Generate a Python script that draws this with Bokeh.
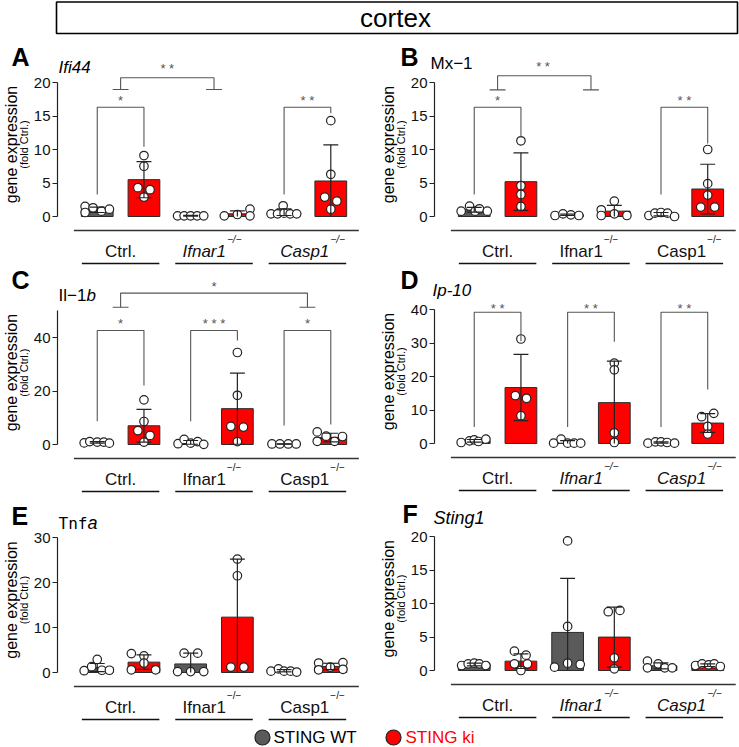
import math
from bokeh.plotting import figure
from bokeh.layouts import column, row
from bokeh.models import Range1d, FixedTicker
from bokeh.core.properties import value
from bokeh.embed import file_html
from bokeh.resources import INLINE

FONT = "Liberation Sans"
RED = "#ff0000"
WT_GRAY = "#5a5a5a"
EDGE = "#2b2b2b"
BRK = "#555555"

# ---------------- shared categories ----------------
positions = [1, 2, 3, 4, 5, 6]
group_centers = [1.5, 3.5, 5.5]
group_names = ["Ctrl.", "Ifnar1", "Casp1"]
group_sup = ["", "\u2212/\u2212", "\u2212/\u2212"]
sup_shift_px = [0, 12, 22]
bar_colors = [WT_GRAY, RED, WT_GRAY, RED, WT_GRAY, RED]
legend_labels = ["STING WT", "STING ki"]
legend_fill = [WT_GRAY, RED]
legend_text_colors = ["#000000", RED]
title_text = "cortex"

# ---------------- panel A : Ifi44 ----------------
A_mean = [1.0, 5.5, 0.12, 0.4, 0.65, 5.3]
A_sd = [0.4, 2.7, 0.05, 0.45, 0.5, 5.4]
A_points = [[1.5, 0.6, 1.3, 0.8, 1.1], [9.1, 7.5, 4.3, 4.0, 2.9], [0.1, 0.1, 0.1, 0.1, 0.1],
            [0.1, 0.3, 1.1, 0.1], [0.4, 0.4, 1.6, 0.5, 0.4, 0.4], [14.3, 6.3, 2.9, 2.3, 1.1]]
A_jitter = [[-0.26, -0.26, -0.09, 0.09, 0.26], [0, 0, -0.13, 0.13, 0], [-0.28, -0.14, 0, 0.14, 0.28],
            [-0.28, 0, 0.27, 0.27], [-0.28, -0.14, -0.02, 0.0, 0.13, 0.27], [0, 0, -0.13, 0.13, 0]]
A_ticks = [0, 5, 10, 15, 20]
A_brackets = [(1.5, 3.5, 20.7, 18.95, 18.95, "* *", 22.5, True),
              (1, 2, 16.3, 3.3, 10.4, "*", 17.8, False),
              (5, 6, 16.3, 3.3, 15.4, "* *", 17.8, False)]

# ---------------- panel B : Mx-1 ----------------
B_mean = [1.0, 5.2, 0.25, 0.8, 0.35, 4.1]
B_sd = [0.35, 4.3, 0.1, 0.85, 0.25, 3.7]
B_points = [[0.8, 1.55, 0.8, 1.15, 0.8], [11.3, 4.6, 3.3, 1.5], [0.15, 0.4, 0.25, 0.15],
            [1.0, 0.15, 2.3, 0.4, 0.15], [0.15, 0.5, 0.6, 0.5, 0.0], [10.0, 4.9, 3.2, 1.4, 1.4]]
B_jitter = [[-0.28, -0.1, 0.02, 0.11, 0.28], [0, 0, 0, 0], [-0.27, -0.1, 0.07, 0.24],
            [-0.28, -0.28, 0, 0, 0.27], [-0.26, -0.13, 0, 0.14, 0.29], [0, 0, 0, -0.15, 0.15]]
B_ticks = [0, 5, 10, 15, 20]
B_brackets = [(1.5, 3.5, 21.0, 18.9, 18.9, "* *", 22.9, True),
              (1, 2, 16.3, 3.3, 11.8, "*", 17.7, False),
              (5, 6, 16.3, 3.3, 10.9, "* *", 17.7, False)]

# ---------------- panel C : Il-1b ----------------
C_mean = [0.8, 7.0, 0.8, 13.4, 0.2, 2.6]
C_sd = [0.25, 6.1, 0.7, 13.3, 0.05, 1.6]
C_points = [[0.6, 1.1, 0.9, 0.9, 0.5], [16.7, 8.6, 5.2, 3.4, 0.9], [0.3, 1.9, 0.5, 1.1, 0.05],
            [34.4, 18.4, 6.8, 6.5, 1.1], [0.2, 0.2, 0.2, 0.2], [4.7, 1.2, 3.1, 1.2, 3.0]]
C_jitter = [[-0.28, -0.16, 0, 0.14, 0.26], [0, 0, -0.13, 0.13, 0], [-0.27, -0.14, 0, 0.15, 0.28],
            [0, 0, -0.14, 0.13, 0], [-0.26, -0.09, 0.09, 0.26], [-0.29, -0.29, -0.1, 0.08, 0.25]]
C_ticks = [0, 20, 40]
C_brackets = [(1.5, 5.5, 56.6, 51.3, 51.3, "*", 60.2, True),
              (1, 2, 42.6, 8.7, 22.1, "*", 46.4, False),
              (3, 4, 42.6, 8.7, 38.9, "* * *", 46.4, False),
              (5, 6, 42.6, 7.1, 7.5, "*", 46.4, False)]

# ---------------- panel D : Ip-10 ----------------
D_mean = [0.8, 16.7, 0.35, 12.2, 0.3, 6.1]
D_sd = [0.4, 9.9, 0.5, 12.4, 0.2, 2.8]
D_points = [[0.3, 0.8, 1.1, 0.6, 1.3], [31.2, 14.3, 13.5, 8.3], [0.1, 1.3, 0.1, 0.1, 0.1],
            [24.0, 22.0, 3.2, 0.3], [0.1, 0.5, 0.5, 0.3, 0.1], [8.0, 9.0, 5.1, 2.8]]
D_jitter = [[-0.28, -0.1, 0.0, 0.09, 0.25], [0, -0.12, 0.12, 0], [-0.3, -0.14, 0, 0.14, 0.28],
            [0, 0, 0, 0], [-0.28, -0.12, 0, 0.13, 0.29], [-0.13, 0.13, 0, 0]]
D_ticks = [0, 10, 20, 30, 40]
D_brackets = [(1, 2, 39.2, 4.9, 30.5, "* *", 41.2, False),
              (3, 4, 39.2, 4.9, 30.4, "* *", 41.2, False),
              (5, 6, 39.2, 4.9, 16.1, "* *", 41.2, False)]

# ---------------- panel E : Tnfa ----------------
E_mean = [1.1, 2.3, 1.9, 12.3, 0.4, 1.35]
E_sd = [0.9, 1.6, 2.4, 12.9, 0.25, 0.7]
E_points = [[0.4, 1.3, 2.9, 0.5, 0.5], [4.2, 3.7, 2.1, 0.6, 0.6], [4.3, 4.3, 0.2, 0.2, 0.2],
            [25.2, 21.5, 1.2, 1.2], [0.3, 0.8, 0.3, 0.3, 0.1], [2.1, 0.6, 1.2, 2.2, 0.7]]
E_jitter = [[-0.28, -0.12, 0, 0.1, 0.26], [-0.27, 0, 0, -0.27, 0.25], [-0.14, 0.15, -0.28, 0, 0.28],
            [0, 0, -0.14, 0.14], [-0.28, -0.12, 0, 0.14, 0.27], [-0.26, -0.26, -0.01, 0.26, 0.26]]
E_ticks = [0, 10, 20, 30]
E_brackets = []

# ---------------- panel F : Sting1 ----------------
F_mean = [0.9, 1.4, 5.7, 5.0, 0.7, 0.8]
F_sd = [0.2, 1.1, 8.1, 4.5, 0.45, 0.2]
F_points = [[0.75, 1.0, 1.1, 1.0, 0.75], [2.9, 2.3, 1.0, 1.0, 0.0], [19.4, 6.6, 0.5, 1.1, 0.9],
            [8.8, 9.0, 1.9, 0.25], [1.4, 0.4, 1.0, 0.4, 0.4], [0.75, 1.0, 0.85, 1.0, 0.6]]
F_jitter = [[-0.27, -0.13, 0, 0.11, 0.25], [-0.14, 0.11, -0.14, 0.14, 0], [0, 0, -0.28, 0, 0.27],
            [-0.13, 0.12, 0, 0], [-0.29, -0.29, -0.06, 0.08, 0.24], [-0.26, -0.12, 0.02, 0.14, 0.27]]
F_ticks = [0, 5, 10, 15, 20]
F_brackets = []

STRIP_W = 30   # strip holding the rotated y titles
AXIS_W = 25    # border holding the y tick labels
X0_PX = 95     # px of first bar from panel left
UNIT_PX = 47   # px per category step


def base_fig(w, h, xr, yr, border_left=0, axis=False):
    f = figure(width=w, height=h, x_range=xr, y_range=yr, output_backend="svg",
               toolbar_location=None, x_axis_location=None,
               y_axis_location="left" if axis else None,
               min_border_left=border_left, min_border_right=0, min_border_top=0,
               min_border_bottom=0)
    f.outline_line_color = None
    f.grid.visible = False
    return f


def make_panel(letter, title_parts, mean, sd, pts, jit, ticks, ymax, brackets, italic_groups,
               w, h, zero, ppu, split, letter_xy, title_xy):
    def px2x(px):
        return 1 + (px - X0_PX) / UNIT_PX

    def px2y(py):
        return (zero - py) / ppu

    top = split if split else 0
    y_top = px2y(top)
    plot = base_fig(w - STRIP_W, h - top, Range1d(px2x(STRIP_W + AXIS_W), px2x(w)),
                    Range1d(px2y(h), y_top), border_left=AXIS_W, axis=True)
    strip = base_fig(STRIP_W, h - top, Range1d(0, STRIP_W), Range1d(px2y(h), y_top))
    band = None
    if split:
        band = base_fig(w, split, Range1d(px2x(0), px2x(w)), Range1d(y_top, px2y(0)))

    ax = plot.yaxis[0]
    ax.bounds = (0, ymax)
    ax.ticker = FixedTicker(ticks=ticks)
    ax.major_tick_out = 5
    ax.major_tick_in = 0
    ax.minor_tick_line_color = None
    ax.axis_line_color = "#222222"
    ax.major_tick_line_color = "#222222"
    ax.axis_line_width = 1.2
    ax.major_tick_line_width = 1.2
    ax.major_label_text_font = FONT
    ax.major_label_text_font_size = "15px"
    ax.major_label_text_color = "#111111"
    ax.major_label_standoff = 2

    # bars
    plot.vbar(x=positions, top=mean, bottom=0, width=0.68, fill_color=bar_colors,
              line_color=EDGE, line_width=1)

    # points
    xs, ys = [], []
    for pos, vals, jj in zip(positions, pts, jit):
        for v, j in zip(vals, jj):
            xs.append(pos + j)
            ys.append(v)
    plot.scatter(x=xs, y=ys, size=8.5, fill_color="white", line_color="#222222", line_width=1.2)

    # error bars (mean +/- SD)
    ex0, ey0, ex1, ey1 = [], [], [], []
    for pos, m, s in zip(positions, mean, sd):
        lo = max(0.0, m - s)
        hi = m + s
        ex0.append(pos); ey0.append(lo); ex1.append(pos); ey1.append(hi)
        ex0.append(pos - 0.16); ey0.append(hi); ex1.append(pos + 0.16); ey1.append(hi)
        if lo > 0:
            ex0.append(pos - 0.16); ey0.append(lo); ex1.append(pos + 0.16); ey1.append(lo)
    plot.segment(x0=ex0, y0=ey0, x1=ex1, y1=ey1, line_color="#222222", line_width=1.2)

    # significance brackets
    bx, by = [], []
    stars = {"band": ([], [], []), "plot": ([], [], [])}
    for (x1, x2, yt, e1, e2, lab, ly, caps) in brackets:
        bx.append([x1, x1, x2, x2]); by.append([e1, yt, yt, e2])
        if caps:
            bx.append([x1 - 0.17, x1 + 0.17]); by.append([e1, e1])
            bx.append([x2 - 0.17, x2 + 0.17]); by.append([e2, e2])
        key = "band" if (band is not None and ly > y_top) else "plot"
        stars[key][0].append((x1 + x2) / 2); stars[key][1].append(ly); stars[key][2].append(lab)
    if bx:
        plot.multi_line(xs=bx, ys=by, line_color=BRK, line_width=1.1)
    for key, fig in (("band", band), ("plot", plot)):
        sx, sy, st = stars[key]
        if sx:
            fig.text(x=sx, y=sy, text=st, text_align="center", text_baseline="middle",
                     y_offset=3, text_font=value(FONT), text_font_size="13px", text_color=BRK)

    # baseline + group labels + underlines
    plot.segment(x0=[0.5], y0=[px2y(zero + 14)], x1=[6.6], y1=[px2y(zero + 14)],
                 line_color="#333333", line_width=1.3)
    style = "italic" if italic_groups else "normal"
    main_x, main_t, sup_x, sup_t = [], [], [], []
    for c, name, sup, shift in zip(group_centers, group_names, group_sup, sup_shift_px):
        if sup:
            main_x.append(c + shift / UNIT_PX); main_t.append(name)
            sup_x.append(c + shift / UNIT_PX); sup_t.append(sup)
    plot.text(x=[group_centers[0]], y=[px2y(zero + 35)], text=[group_names[0]],
              text_align="center", text_baseline="middle",
              text_font=value(FONT), text_font_size="17px", text_color="#111111")
    plot.text(x=main_x, y=[px2y(zero + 35)] * len(main_x), text=main_t,
              text_align="right", text_baseline="middle", text_font_style=style,
              text_font=value(FONT), text_font_size="17px", text_color="#111111")
    plot.text(x=sup_x, y=[px2y(zero + 23)] * len(sup_x), text=sup_t, x_offset=1,
              text_align="left", text_baseline="middle", text_font_style=style,
              text_font=value(FONT), text_font_size="10px", text_color="#111111")
    plot.segment(x0=[c - 0.83 for c in group_centers], y0=[px2y(zero + 47)] * 3,
                 x1=[c + 0.83 for c in group_centers], y1=[px2y(zero + 47)] * 3,
                 line_color="#111111", line_width=1.5)

    # panel letter
    if band is not None:
        band.text(x=[px2x(letter_xy[0])], y=[px2y(letter_xy[1])], text=[letter],
                  text_font=value(FONT), text_font_style="bold", text_font_size="25px",
                  text_align="left", text_baseline="middle", text_color="#000000")
    else:
        strip.text(x=[letter_xy[0]], y=[px2y(letter_xy[1])], text=[letter],
                   text_font=value(FONT), text_font_style="bold", text_font_size="25px",
                   text_align="left", text_baseline="middle", text_color="#000000")
    # gene title
    tfig = band if (band is not None and title_xy[1] < split) else plot
    for txt, st, off, fnt, fs in title_parts:
        tfig.text(x=[px2x(title_xy[0])], y=[px2y(title_xy[1])], x_offset=off, text=[txt],
                  text_font=value(fnt), text_font_style=st, text_font_size=fs,
                  text_align="left", text_baseline="middle", text_color="#000000")

    # y-axis titles
    yc = ymax / 2 + 5 / ppu
    strip.text(x=[11], y=[yc], text=["gene expression"], angle=math.pi / 2,
               text_font=value(FONT), text_font_size="16px", text_align="center",
               text_baseline="middle", text_color="#000000")
    strip.text(x=[23.5], y=[yc], text=["(fold Ctrl.)"], angle=math.pi / 2,
               text_font=value(FONT), text_font_size="11px", text_align="center",
               text_baseline="middle", text_color="#000000")
    if band is not None:
        return column(band, row(strip, plot))
    return row(strip, plot)


pA = make_panel("A", [("Ifi44", "italic", 0, FONT, "17px")], A_mean, A_sd, A_points, A_jitter,
                A_ticks, 20, A_brackets, True, 377, 227, 178, 6.7, None, (11, 18.5), (56, 29))
pB = make_panel("B", [("Mx\u22121", "normal", 0, FONT, "17px")], B_mean, B_sd, B_points, B_jitter,
                B_ticks, 20, B_brackets, False, 362, 227, 178, 6.7, 35, (23, 18), (53, 25))
pC = make_panel("C", [("Il\u22121", "normal", 0, FONT, "17px"), ("b", "italic", 28, FONT, "17px")],
                C_mean, C_sd, C_points, C_jitter, C_ticks, 50, C_brackets, False,
                377, 231, 179, 2.675, None, (11, 14.5), (56, 30))
pD = make_panel("D", [("Ip-10", "italic", 0, FONT, "17px")], D_mean, D_sd, D_points, D_jitter,
                D_ticks, 40, D_brackets, True, 362, 231, 178, 3.35, 35, (23, 14.5), (55, 25))
pE = make_panel("E", [("Tnf", "normal", 0, "DejaVu Sans Mono", "16px"), ("a", "italic", 29, FONT, "18px")],
                E_mean, E_sd, E_points, E_jitter, E_ticks, 30, E_brackets, False,
                377, 226, 176, 4.5, None, (11, 19.5), (56, 26.5))
pF = make_panel("F", [("Sting1", "italic", 0, FONT, "18px")], F_mean, F_sd, F_points, F_jitter,
                F_ticks, 20, F_brackets, True, 362, 226, 174, 6.68, 32, (25, 17.5), (56, 21))

# title box
pt = base_fig(739, 38, Range1d(0, 739), Range1d(38, 0))
pt.quad(left=[56], right=[737], top=[1.5], bottom=[33], fill_color=None,
        line_color="#000000", line_width=1.6)
pt.text(x=[395], y=[17.5], text=[title_text], text_align="center", text_baseline="middle",
        text_font=value(FONT), text_font_size="26px", text_color="#000000")

# legend strip
pl = base_fig(739, 24, Range1d(0, 739), Range1d(24, 0))
pl.scatter(x=[262, 393], y=[15, 15], size=15, fill_color=legend_fill, line_color="#222222",
           line_width=1.2)
pl.text(x=[273, 405], y=[15, 15], text=legend_labels, text_color=legend_text_colors,
        text_align="left", text_baseline="middle", text_font=value(FONT), text_font_size="17px")

layout = column(pt, row(pA, pB), row(pC, pD), row(pE, pF), pl)
open("out.html", "w").write(file_html(layout, INLINE))
